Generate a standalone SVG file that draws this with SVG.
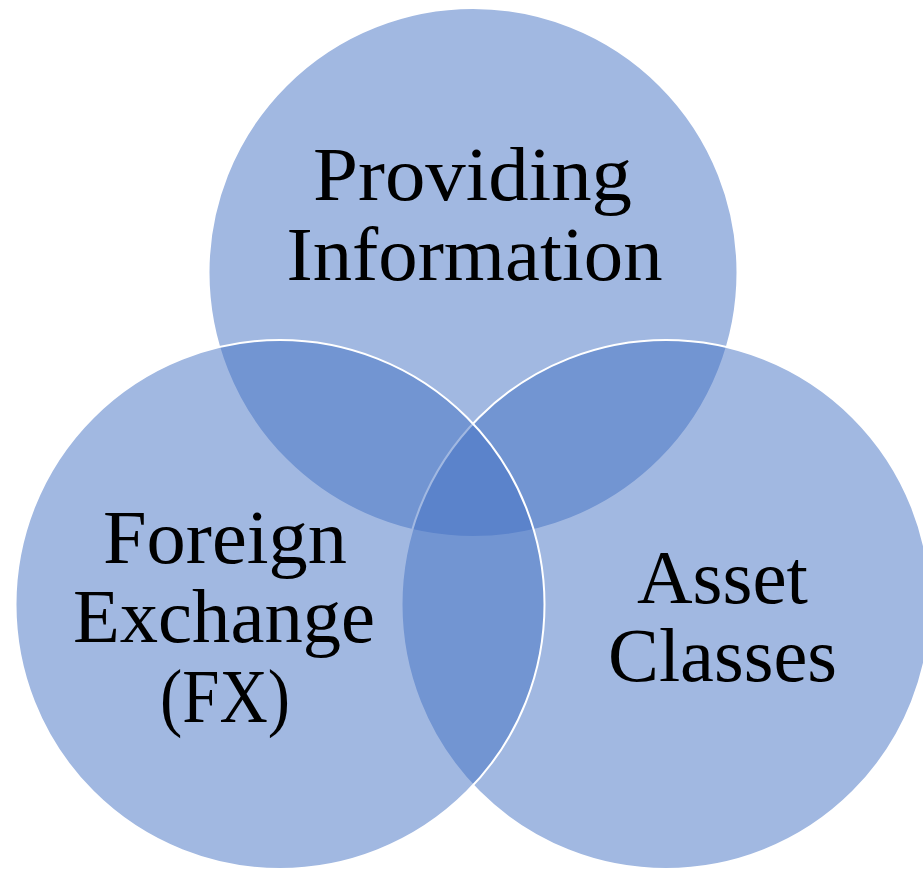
<svg xmlns="http://www.w3.org/2000/svg" width="923" height="871" viewBox="0 0 923 871">
<style>
.c{fill:#4472C4;fill-opacity:0.5;stroke:#FFFFFF;stroke-width:2}
.t{font-family:"Liberation Serif","Times New Roman",serif;font-size:76px;fill:#000000;text-anchor:middle}
</style>
<rect width="923" height="871" fill="#FFFFFF"/>
<g id="connectors"></g>
<g id="node-top">
<circle class="c" cx="473" cy="272.5" r="264.5"/>
<text class="t" x="472.5" y="200" textLength="319" lengthAdjust="spacingAndGlyphs">Providing</text>
<text class="t" x="474.5" y="280" textLength="376" lengthAdjust="spacingAndGlyphs">Information</text>
</g>
<g id="node-right">
<circle class="c" cx="666" cy="604.5" r="264.5"/>
<text class="t" x="722.5" y="603" textLength="171" lengthAdjust="spacingAndGlyphs">Asset</text>
<text class="t" x="722.5" y="681" textLength="229" lengthAdjust="spacingAndGlyphs">Classes</text>
</g>
<g id="node-left">
<circle class="c" cx="280" cy="604.5" r="264.5"/>
<text class="t" x="225" y="563" textLength="244" lengthAdjust="spacingAndGlyphs">Foreign</text>
<text class="t" x="224" y="642" textLength="302" lengthAdjust="spacingAndGlyphs">Exchange</text>
<text class="t" x="225" y="722" textLength="130" lengthAdjust="spacingAndGlyphs">(FX)</text>
</g>
</svg>
